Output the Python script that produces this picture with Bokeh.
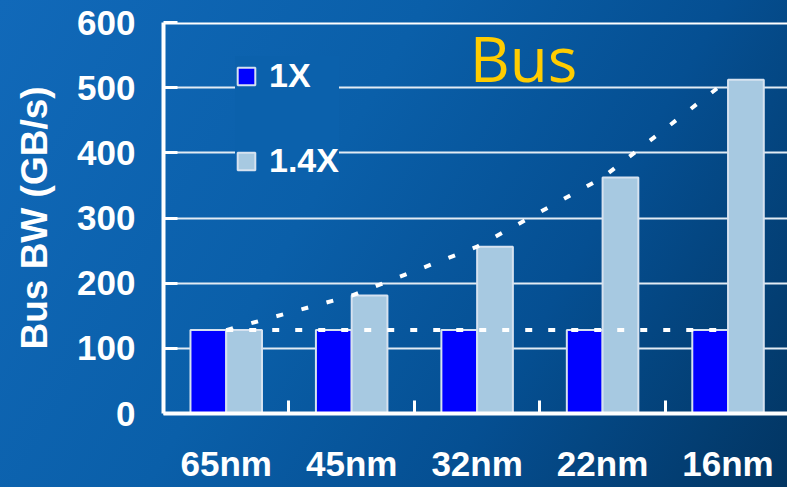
from bokeh.plotting import figure
from bokeh.models import Range1d, FixedTicker, Legend, LegendItem, Label, Span
from bokeh.embed import file_html
from bokeh.resources import INLINE

categories = ["65nm", "45nm", "32nm", "22nm", "16nm"]
bw_1x = [128, 128, 128, 128, 128]
bw_14x = [128, 181, 256, 362, 512]
y_ticks = [0, 100, 200, 300, 400, 500, 600]
grid_ticks = [100, 200, 300, 400, 500]

centers = [i + 0.5 for i in range(len(categories))]
boundaries = [i for i in range(1, len(categories))]
bar_w = 0.285
x_1x = [c - bar_w / 2 for c in centers]
x_14x = [c + bar_w / 2 for c in centers]

FONT = "Liberation Sans"

p = figure(width=787, height=487, output_backend="svg", toolbar_location=None,
           x_range=Range1d(0, 4.974), y_range=Range1d(0, 600),
           min_border_left=163, min_border_right=0, min_border_top=22, min_border_bottom=74,
           background_fill_color=None, border_fill_color=None, outline_line_color=None)
p.styles = {"background": "linear-gradient(120deg, #1169b9 0%, #0a5fa9 40%, #054f92 68%, #023562 100%)"}

# grid
p.xgrid.visible = False
p.ygrid.ticker = FixedTicker(ticks=grid_ticks)
p.ygrid.grid_line_color = "#e2ebf4"
p.ygrid.grid_line_width = 2

p.add_layout(Span(location=600, dimension="width", line_color="white", line_width=4))

# bars
r1 = p.vbar(x=x_1x, top=bw_1x, width=bar_w, bottom=0, fill_color="#0000FF",
            line_color="#d6e2f0", line_width=2)
r2 = p.vbar(x=x_14x, top=bw_14x, width=bar_w, bottom=0, fill_color="#A7C9E1",
            line_color="#d6e2f0", line_width=2)

# trend lines
p.line(centers, bw_1x, line_color="white", line_width=4, line_dash="7 16")
p.line(centers, bw_14x, line_color="white", line_width=4, line_dash="7 19")

# x axis
xa = p.xaxis[0]
xa.ticker = FixedTicker(ticks=centers, minor_ticks=boundaries)
xa.major_label_overrides = {c: cat for c, cat in zip(centers, categories)}
xa.axis_line_color = "white"
xa.axis_line_width = 4
xa.major_tick_line_color = None
xa.minor_tick_line_color = "white"
xa.minor_tick_line_width = 3
xa.minor_tick_in = 13
xa.minor_tick_out = 0
xa.major_label_text_color = "white"
xa.major_label_text_font = FONT
xa.major_label_text_font_style = "bold"
xa.major_label_text_font_size = "35px"
xa.major_label_standoff = 24

# y axis
ya = p.yaxis[0]
ya.ticker = FixedTicker(ticks=y_ticks)
ya.axis_line_color = "white"
ya.axis_line_width = 4
ya.major_tick_line_color = "white"
ya.major_tick_line_width = 3
ya.major_tick_in = 14
ya.major_tick_out = 0
ya.minor_tick_line_color = None
ya.major_label_text_color = "white"
ya.major_label_text_font = FONT
ya.major_label_text_font_style = "bold"
ya.major_label_text_font_size = "35px"
ya.major_label_standoff = 28
ya.axis_label = "Bus BW (GB/s)"
ya.axis_label_text_color = "white"
ya.axis_label_text_font = FONT
ya.axis_label_text_font_style = "bold"
ya.axis_label_text_font_size = "37px"
ya.axis_label_standoff = 19

# legend
legend = Legend(items=[LegendItem(label="1X", renderers=[r1]),
                       LegendItem(label="1.4X", renderers=[r2])],
                location=(72, 233), orientation="vertical",
                background_fill_color="#0b61ac", background_fill_alpha=1.0,
                border_line_color=None, padding=14, margin=0, spacing=46,
                glyph_width=22, glyph_height=22, label_standoff=12,
                label_text_color="white", label_text_font=FONT,
                label_text_font_style="bold", label_text_font_size="34px")
p.add_layout(legend)

p.add_layout(Label(x=2.87, y=545, text="Bus", text_color="#FFCC00",
                   text_font="Open Sans", text_font_size="62px",
                   text_align="center", text_baseline="alphabetic"))

open("out.html", "w").write(file_html(p, INLINE))
